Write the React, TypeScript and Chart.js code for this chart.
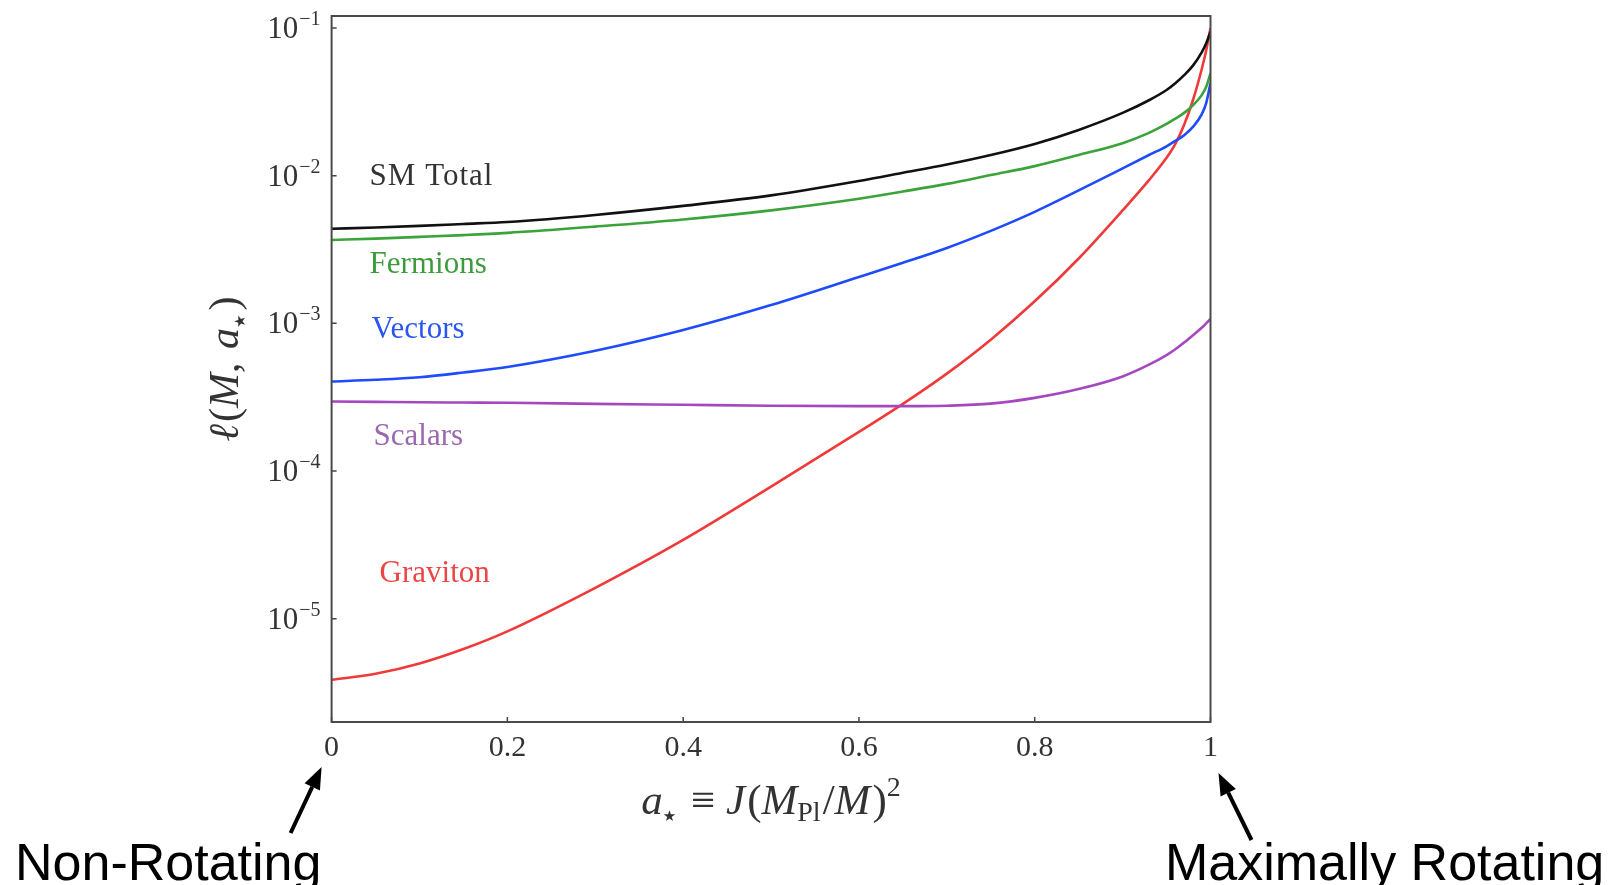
import React, { useEffect, useRef } from "react";
import { Chart, registerables } from "chart.js";

Chart.register(...registerables);

// Dimensionless spin a* sampled along the x axis
const spin = [0, 0.05, 0.1, 0.15, 0.2, 0.3, 0.4, 0.5, 0.6, 0.65, 0.7, 0.75, 0.8, 0.85, 0.9, 0.93, 0.95, 0.96, 0.97, 0.98, 0.99, 0.995, 1.0];

// Page coefficient l(M, a*) for each species group
const smTotal = [4.37e-3, 4.46e-3, 4.57e-3, 4.71e-3, 4.86e-3, 5.42e-3, 6.24e-3, 7.35e-3, 9.2e-3, 1.045e-2, 1.19e-2, 1.38e-2, 1.64e-2, 2.04e-2, 2.66e-2, 3.24e-2, 3.8e-2, 4.22e-2, 4.79e-2, 5.56e-2, 6.84e-2, 7.85e-2, 9.44e-2];
const fermions = [3.67e-3, 3.75e-3, 3.85e-3, 3.96e-3, 4.1e-3, 4.52e-3, 5.05e-3, 5.82e-3, 6.97e-3, 7.81e-3, 8.8e-3, 1.01e-2, 1.16e-2, 1.38e-2, 1.66e-2, 1.95e-2, 2.24e-2, 2.43e-2, 2.66e-2, 2.99e-2, 3.51e-2, 3.98e-2, 4.93e-2];
const vectors = [4.04e-4, 4.15e-4, 4.32e-4, 4.65e-4, 5.07e-4, 6.53e-4, 9.02e-4, 1.33e-3, 2.06e-3, 2.57e-3, 3.24e-3, 4.23e-3, 5.69e-3, 7.94e-3, 1.12e-2, 1.38e-2, 1.58e-2, 1.72e-2, 1.88e-2, 2.14e-2, 2.6e-2, 3.09e-2, 4.23e-2];
const scalars = [2.96e-4, 2.94e-4, 2.92e-4, 2.91e-4, 2.9e-4, 2.85e-4, 2.81e-4, 2.77e-4, 2.75e-4, 2.75e-4, 2.77e-4, 2.86e-4, 3.13e-4, 3.59e-4, 4.37e-4, 5.25e-4, 6.1e-4, 6.68e-4, 7.41e-4, 8.32e-4, 9.33e-4, 1.0e-3, 1.07e-3];
const graviton = [3.86e-6, 4.24e-6, 4.98e-6, 6.24e-6, 8.22e-6, 1.62e-5, 3.42e-5, 7.85e-5, 1.84e-4, 2.85e-4, 4.57e-4, 7.76e-4, 1.41e-3, 2.75e-3, 5.82e-3, 9.33e-3, 1.32e-2, 1.64e-2, 2.21e-2, 3.24e-2, 5.25e-2, 7.0e-2, 1.0e-1];

// Axis ticks
const xTickValues = [0, 0.2, 0.4, 0.6, 0.8, 1];
const yExponents = [-1, -2, -3, -4, -5];

const seriesNames = ["SM Total", "Fermions", "Vectors", "Scalars", "Graviton"];
const seriesValues = [smTotal, fermions, vectors, scalars, graviton];
const lineColors = ["#111111", "#3aa33a", "#1f4bff", "#a548c0", "#f03a3a"];
const labelColors = ["#333333", "#3d9a3d", "#2a55f0", "#9a68ae", "#ea4646"];
// label anchor: offset from plot left edge, baseline in page pixels, extra tracking
const labelSpots = [
  { dx: 38, y: 185, track: 1 },
  { dx: 38, y: 273, track: 0 },
  { dx: 40, y: 338, track: 0 },
  { dx: 42, y: 445, track: 0 },
  { dx: 48, y: 582, track: 0 },
];

const SERIF = '"Liberation Serif", "DejaVu Serif", "DejaVu Sans", serif';
const SANS = '"Liberation Sans", Arial, sans-serif';
const STAR = '"DejaVu Sans", sans-serif';

type Piece = { t: string; size: number; italic?: boolean; dy?: number; gap?: number; family?: string };

function drawRich(ctx: CanvasRenderingContext2D, pieces: Piece[], cx: number, baseY: number) {
  const fontOf = (p: Piece) => `${p.italic ? "italic " : ""}${p.size}px ${p.family || SERIF}`;
  let total = 0;
  const widths = pieces.map((p) => {
    ctx.font = fontOf(p);
    const w = ctx.measureText(p.t).width + (p.gap || 0);
    total += w;
    return w;
  });
  let x = cx - total / 2;
  ctx.textAlign = "left";
  ctx.textBaseline = "alphabetic";
  pieces.forEach((p, i) => {
    ctx.font = fontOf(p);
    ctx.fillText(p.t, x, baseY + (p.dy || 0));
    x += widths[i];
  });
}

function drawArrow(ctx: CanvasRenderingContext2D, x1: number, y1: number, x2: number, y2: number) {
  const ang = Math.atan2(y2 - y1, x2 - x1);
  const head = 22;
  const half = 8.5;
  const bx = x2 - head * Math.cos(ang);
  const by = y2 - head * Math.sin(ang);
  ctx.strokeStyle = "#000";
  ctx.fillStyle = "#000";
  ctx.lineWidth = 4;
  ctx.beginPath();
  ctx.moveTo(x1, y1);
  ctx.lineTo(bx, by);
  ctx.stroke();
  ctx.beginPath();
  ctx.moveTo(x2, y2);
  ctx.lineTo(bx + half * Math.sin(ang), by - half * Math.cos(ang));
  ctx.lineTo(bx - half * Math.sin(ang), by + half * Math.cos(ang));
  ctx.closePath();
  ctx.fill();
}

const decorations = {
  id: "decorations",
  afterDraw(chart: any) {
    const { ctx, chartArea: area, scales } = chart;
    const xs = scales.x;
    const ys = scales.y;
    ctx.save();

    // inward tick marks
    ctx.strokeStyle = "#444";
    ctx.lineWidth = 1.5;
    ctx.beginPath();
    xTickValues.forEach((v) => {
      const px = xs.getPixelForValue(v);
      ctx.moveTo(px, area.bottom);
      ctx.lineTo(px, area.bottom - 5);
    });
    yExponents.forEach((k) => {
      const py = ys.getPixelForValue(Math.pow(10, k));
      ctx.moveTo(area.left, py);
      ctx.lineTo(area.left + 5, py);
    });
    ctx.stroke();

    // frame
    ctx.strokeStyle = "#4a4a4a";
    ctx.lineWidth = 2;
    ctx.strokeRect(area.left, area.top, area.right - area.left, area.bottom - area.top);

    // y tick labels 10^k
    ctx.fillStyle = "#333";
    ctx.textBaseline = "alphabetic";
    ctx.textAlign = "left";
    yExponents.forEach((k) => {
      const py = ys.getPixelForValue(Math.pow(10, k));
      const sup = "\u2212" + String(-k);
      ctx.font = `20px ${SERIF}`;
      const ws = ctx.measureText(sup).width;
      ctx.font = `31px ${SERIF}`;
      const wb = ctx.measureText("10").width;
      const right = area.left - 11;
      ctx.font = `20px ${SERIF}`;
      ctx.fillText(sup, right - ws, py - 3);
      ctx.font = `31px ${SERIF}`;
      ctx.fillText("10", right - ws - wb - 1, py + 10);
    });

    // axis titles
    ctx.fillStyle = "#333";
    const midX = (area.left + area.right) / 2;
    drawRich(
      ctx,
      [
        { t: "a", size: 43, italic: true },
        { t: "\u2605", size: 15, dy: 7, gap: 4, family: STAR },
        { t: " \u2261 ", size: 43 },
        { t: "J", size: 43, italic: true, gap: 2 },
        { t: "(", size: 43 },
        { t: "M", size: 43, italic: true },
        { t: "Pl", size: 28, dy: 7, gap: 2 },
        { t: "/", size: 43 },
        { t: "M", size: 43, italic: true, gap: 2 },
        { t: ")", size: 43 },
        { t: "2", size: 28, dy: -18 },
      ],
      midX,
      814
    );

    ctx.save();
    ctx.translate(area.left - 94, (area.top + area.bottom) / 2);
    ctx.rotate(-Math.PI / 2);
    drawRich(
      ctx,
      [
        { t: "\u2113", size: 42, italic: true, gap: 2 },
        { t: "(", size: 42 },
        { t: "M", size: 42, italic: true },
        { t: ", ", size: 42, gap: 3 },
        { t: "a", size: 42, italic: true },
        { t: "\u2605", size: 15, dy: 7, gap: 4, family: STAR },
        { t: ")", size: 42 },
      ],
      0,
      0
    );
    ctx.restore();

    // curve labels
    ctx.textAlign = "left";
    ctx.textBaseline = "alphabetic";
    ctx.font = `31px ${SERIF}`;
    seriesNames.forEach((name, i) => {
      ctx.fillStyle = labelColors[i];
      (ctx as any).letterSpacing = `${labelSpots[i].track}px`;
      ctx.fillText(name, area.left + labelSpots[i].dx, labelSpots[i].y);
    });
    (ctx as any).letterSpacing = "0px";

    // rotation annotations
    const x0 = xs.getPixelForValue(0);
    const x1 = xs.getPixelForValue(1);
    drawArrow(ctx, x0 - 41, 833, x0 - 10, 767);
    drawArrow(ctx, x1 + 41, 840, x1 + 8, 773);
    ctx.fillStyle = "#000";
    ctx.font = `52px ${SANS}`;
    ctx.fillText("Non-Rotating", 15, 880);
    ctx.fillText("Maximally Rotating", 1165, 880);

    ctx.restore();
  },
};

export default function App() {
  const canvasRef = useRef<HTMLCanvasElement | null>(null);

  useEffect(() => {
    document.body.style.margin = "0";
    const canvas = canvasRef.current;
    if (!canvas) return;
    const chart = new Chart(canvas, {
      type: "line",
      data: {
        datasets: seriesNames.map((name, i) => ({
          label: name,
          data: spin.map((a, j) => ({ x: a, y: seriesValues[i][j] })),
          borderColor: lineColors[i],
          backgroundColor: lineColors[i],
          borderWidth: 2.6,
          pointRadius: 0,
          fill: false,
          cubicInterpolationMode: "monotone" as const,
        })),
      },
      options: {
        animation: false,
        responsive: true,
        maintainAspectRatio: false,
        events: [],
        layout: { padding: { top: 16, right: 405.5, left: 0, bottom: 0 } },
        plugins: { legend: { display: false }, tooltip: { enabled: false } },
        scales: {
          x: {
            type: "linear",
            min: 0,
            max: 1,
            grid: { display: false, drawTicks: false },
            border: { display: false },
            ticks: {
              stepSize: 0.2,
              padding: 8,
              color: "#333",
              font: { family: SERIF, size: 30 },
              maxRotation: 0,
              callback: (v: any) => String(Math.round(Number(v) * 10) / 10),
            },
            afterFit: (scale: any) => {
              scale.height = 163;
            },
          },
          y: {
            type: "logarithmic",
            min: 2.0e-6,
            max: 0.1205,
            grid: { display: false, drawTicks: false },
            border: { display: false },
            ticks: { display: false },
            afterFit: (scale: any) => {
              scale.width = 331.6;
            },
          },
        },
      },
      plugins: [decorations],
    });
    return () => chart.destroy();
  }, []);

  return (
    <div style={{ position: "fixed", left: 0, top: 0, width: "1616px", height: "885px", background: "#fff" }}>
      <canvas ref={canvasRef} />
    </div>
  );
}
